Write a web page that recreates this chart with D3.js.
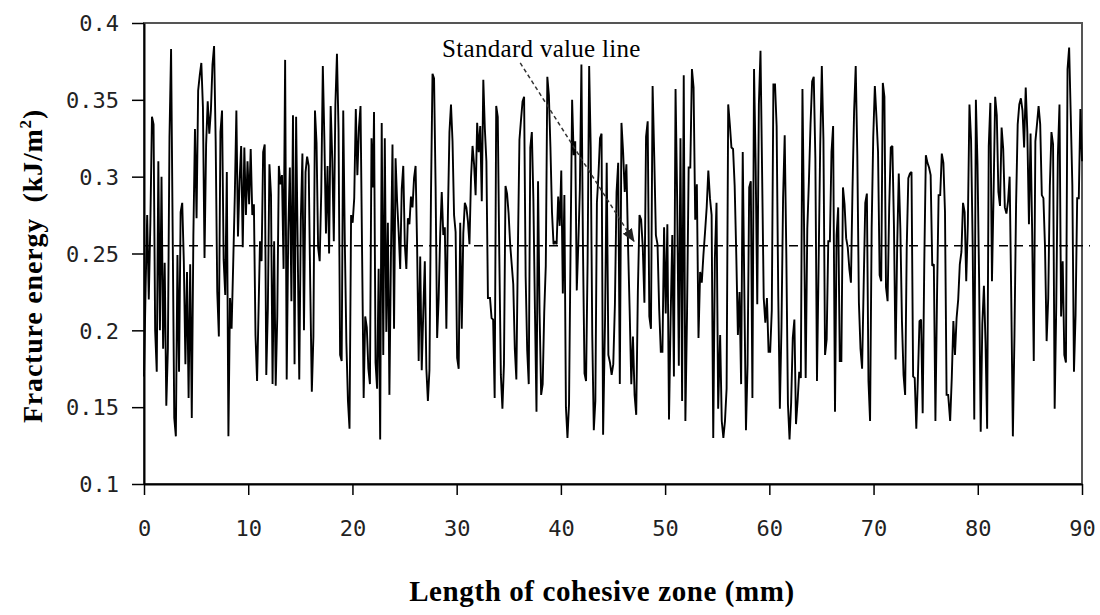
<!DOCTYPE html>
<html>
<head>
<meta charset="utf-8">
<script src="https://cdn.jsdelivr.net/npm/d3@7"></script>
<style>
    body { margin: 0; background: #fff; }
    .tick-label { font-family: "DejaVu Sans Mono", monospace; font-size: 22px; fill: #222; }
    .axis-title { font-family: "Liberation Serif", "Times New Roman", serif; font-weight: bold; fill: #000; }
    .note { font-family: "Liberation Serif", "Times New Roman", serif; font-size: 25px; letter-spacing: 0.3px; fill: #000; }
</style>
</head>
<body>
<svg id="chart" width="1100" height="615"></svg>
<script>
let pad_l = 144
let pad_r = 18
let pad_t = 23
let pad_b = 131

// fracture energy readings, one array per stretch of the zone (kJ/m2)
let energy_a = [0.17, 0.227, 0.275, 0.22, 0.27, 0.339, 0.334, 0.2, 0.173, 0.31, 0.2, 0.3, 0.188, 0.244, 0.151, 0.188, 0.326, 0.383, 0.264, 0.143, 0.131, 0.249, 0.173, 0.277, 0.283, 0.245, 0.178, 0.238, 0.156, 0.243, 0.143, 0.262, 0.331, 0.273, 0.356, 0.366, 0.374, 0.345, 0.247, 0.321, 0.349, 0.328, 0.343, 0.373, 0.385, 0.323, 0.225, 0.196, 0.329, 0.343, 0.246, 0.223, 0.303, 0.131, 0.221, 0.201, 0.243, 0.287, 0.343, 0.261, 0.297, 0.32, 0.254, 0.319, 0.275, 0.31, 0.282, 0.318, 0.275, 0.282, 0.197, 0.167]
let energy_b = [0.258, 0.245, 0.316, 0.321, 0.171, 0.214, 0.308, 0.288, 0.165, 0.258, 0.164, 0.209, 0.307, 0.295, 0.301, 0.24, 0.376, 0.168, 0.264, 0.306, 0.219, 0.34, 0.178, 0.339, 0.254, 0.168, 0.272, 0.315, 0.2, 0.303, 0.313, 0.307, 0.228, 0.16, 0.196, 0.343, 0.322, 0.254, 0.245, 0.29, 0.372, 0.324, 0.263, 0.307, 0.25, 0.346, 0.312, 0.258, 0.347, 0.38, 0.331, 0.184, 0.18, 0.343, 0.258, 0.192, 0.154, 0.136, 0.275, 0.27, 0.286, 0.344, 0.301, 0.332, 0.346, 0.251, 0.156, 0.209, 0.202, 0.175, 0.165, 0.325, 0.293]
let energy_c = [0.342, 0.179, 0.162, 0.24, 0.129, 0.335, 0.184, 0.325, 0.199, 0.27, 0.158, 0.249, 0.321, 0.201, 0.312, 0.284, 0.264, 0.24, 0.292, 0.307, 0.256, 0.24, 0.273, 0.269, 0.287, 0.28, 0.299, 0.307, 0.254, 0.18, 0.248, 0.174, 0.212, 0.245, 0.175, 0.154, 0.174, 0.288, 0.367, 0.364, 0.294, 0.195, 0.221, 0.263, 0.29, 0.262, 0.267, 0.201, 0.275, 0.329, 0.347, 0.323, 0.275, 0.264, 0.182, 0.175, 0.27, 0.201, 0.263, 0.283, 0.28, 0.271, 0.256, 0.299, 0.32, 0.308, 0.288, 0.335, 0.316, 0.333, 0.284, 0.363, 0.331, 0.31, 0.221]
let energy_d = [0.221, 0.208, 0.207, 0.156, 0.346, 0.339, 0.248, 0.171, 0.149, 0.178, 0.294, 0.289, 0.276, 0.256, 0.243, 0.23, 0.188, 0.168, 0.253, 0.324, 0.337, 0.349, 0.352, 0.235, 0.187, 0.165, 0.319, 0.329, 0.285, 0.213, 0.147, 0.297, 0.211, 0.158, 0.165, 0.212, 0.242, 0.365, 0.353, 0.319, 0.277, 0.256, 0.258, 0.256, 0.287, 0.268, 0.304, 0.224, 0.288, 0.15, 0.13, 0.152, 0.254, 0.35, 0.314, 0.323, 0.226, 0.256, 0.292, 0.373, 0.254, 0.172, 0.167, 0.245, 0.372, 0.319, 0.197, 0.135, 0.154, 0.283, 0.301, 0.325, 0.328, 0.132]
let energy_e = [0.208, 0.309, 0.184, 0.179, 0.171, 0.178, 0.217, 0.29, 0.309, 0.165, 0.335, 0.316, 0.29, 0.308, 0.256, 0.213, 0.165, 0.196, 0.158, 0.145, 0.225, 0.275, 0.272, 0.254, 0.218, 0.326, 0.336, 0.209, 0.201, 0.359, 0.313, 0.262, 0.256, 0.214, 0.186, 0.186, 0.267, 0.211, 0.269, 0.142, 0.208, 0.262, 0.17, 0.357, 0.284, 0.177, 0.325, 0.154, 0.366, 0.141, 0.21, 0.306, 0.306, 0.37, 0.358, 0.272, 0.295, 0.195, 0.238, 0.231, 0.249, 0.264, 0.28, 0.304, 0.286, 0.275, 0.13, 0.247, 0.283, 0.149]
let energy_f = [0.197, 0.141, 0.13, 0.141, 0.162, 0.347, 0.334, 0.319, 0.318, 0.294, 0.249, 0.197, 0.225, 0.165, 0.316, 0.225, 0.135, 0.178, 0.293, 0.297, 0.156, 0.37, 0.308, 0.217, 0.347, 0.382, 0.303, 0.221, 0.205, 0.221, 0.186, 0.186, 0.213, 0.36, 0.36, 0.333, 0.223, 0.149, 0.202, 0.286, 0.327, 0.25, 0.152, 0.129, 0.153, 0.195, 0.207, 0.139, 0.154, 0.173, 0.169, 0.357, 0.267, 0.169, 0.266, 0.297, 0.334, 0.362, 0.365, 0.312, 0.167, 0.242, 0.32, 0.372, 0.324, 0.184, 0.194, 0.258, 0.258, 0.316, 0.333]
let energy_g = [0.147, 0.262, 0.28, 0.18, 0.18, 0.293, 0.282, 0.26, 0.254, 0.24, 0.231, 0.293, 0.343, 0.372, 0.314, 0.218, 0.188, 0.175, 0.23, 0.283, 0.289, 0.167, 0.141, 0.267, 0.326, 0.359, 0.339, 0.316, 0.236, 0.232, 0.361, 0.352, 0.228, 0.219, 0.28, 0.319, 0.32, 0.267, 0.181, 0.254, 0.302, 0.266, 0.206, 0.171, 0.158, 0.254, 0.299, 0.302, 0.303, 0.17, 0.169, 0.136, 0.169, 0.206, 0.207, 0.146, 0.243, 0.314, 0.309, 0.306, 0.301, 0.242, 0.243, 0.141, 0.222, 0.288, 0.288, 0.315, 0.309, 0.277, 0.158, 0.158]
let energy_h = [0.141, 0.169, 0.206, 0.184, 0.208, 0.22, 0.243, 0.251, 0.283, 0.277, 0.232, 0.269, 0.347, 0.324, 0.256, 0.142, 0.35, 0.308, 0.234, 0.134, 0.204, 0.229, 0.192, 0.136, 0.32, 0.348, 0.232, 0.289, 0.352, 0.34, 0.29, 0.281, 0.332, 0.318, 0.28, 0.276, 0.284, 0.3, 0.221, 0.131, 0.197, 0.282, 0.334, 0.347, 0.351, 0.343, 0.319, 0.358, 0.329, 0.269, 0.328, 0.264, 0.18, 0.323, 0.334, 0.346, 0.334, 0.288, 0.286, 0.254, 0.193, 0.221, 0.294, 0.329, 0.321, 0.149, 0.217, 0.314, 0.347, 0.209, 0.245, 0.184, 0.179, 0.37, 0.384, 0.34, 0.294, 0.173, 0.21, 0.286, 0.286, 0.344, 0.31]

// start and end of each stretch (mm)
let stretch_mm = [[0, 10.85], [11.13, 21.98], [22.07, 33.0], [33.2, 44.05], [44.24, 55.09], [55.28, 66.12], [66.3, 77.16], [77.35, 90]]

let x_ticks = [0, 10, 20, 30, 40, 50, 60, 70, 80, 90]
let y_ticks = [0.1, 0.15, 0.2, 0.25, 0.3, 0.35, 0.4]
let y_tick_labels = ['0.1', '0.15', '0.2', '0.25', '0.3', '0.35', '0.4']
let standard_value = 0.255

let stretches = [energy_a, energy_b, energy_c, energy_d, energy_e, energy_f, energy_g, energy_h]
let points = []
stretches.forEach((vals, k) => {
    let [a, b] = stretch_mm[k]
    vals.forEach((v, i) => points.push({mm: a + i * (b - a) / (vals.length - 1), e: v}))
})

let svg = d3.select('#chart')
let w = +svg.attr('width')
let h = +svg.attr('height')

let x = d3.scaleLinear().domain([0, 90]).range([pad_l, w - pad_r])
let y = d3.scaleLinear().domain([0.1, 0.4]).range([h - pad_b, pad_t])

// plot area frame
svg.append('rect')
    .attr('x', x(0)).attr('y', y(0.4))
    .attr('width', x(90) - x(0)).attr('height', y(0.1) - y(0.4))
    .attr('fill', 'none').attr('stroke', '#555').attr('stroke-width', 2)

// standard value line, runs a little past the frame
svg.append('line')
    .attr('x1', x(0)).attr('x2', x(90) + 8)
    .attr('y1', y(standard_value)).attr('y2', y(standard_value))
    .attr('stroke', '#000').attr('stroke-width', 1.5)
    .attr('stroke-dasharray', '9,6')

svg.append('path')
    .datum(points)
    .attr('fill', 'none')
    .attr('stroke', '#000')
    .attr('stroke-width', 1.9)
    .attr('stroke-linejoin', 'miter')
    .attr('stroke-miterlimit', 2)
    .attr('d', d3.line().x(d => x(d.mm)).y(d => y(d.e)))

let xAxis = svg.append('g')
    .attr('transform', `translate(0, ${y(0.1)})`)
    .call(d3.axisBottom(x).tickValues(x_ticks).tickSize(11).tickSizeOuter(0).tickFormat(d3.format('d')))
xAxis.select('.domain').attr('stroke', '#000').attr('stroke-width', 2)
xAxis.selectAll('.tick line').attr('stroke', '#000').attr('stroke-width', 1.5)
xAxis.selectAll('.tick text').attr('class', 'tick-label').attr('y', 36).attr('dy', '0.71em')

let yAxis = svg.append('g')
    .attr('transform', `translate(${x(0)}, 0)`)
    .call(d3.axisLeft(y).tickValues(y_ticks).tickSize(12).tickSizeOuter(0).tickFormat((d, i) => y_tick_labels[i]))
yAxis.select('.domain').attr('stroke', '#000').attr('stroke-width', 2)
yAxis.selectAll('.tick line').attr('stroke', '#000').attr('stroke-width', 1.5)
yAxis.selectAll('.tick text').attr('class', 'tick-label').attr('x', -25).attr('dy', '0.35em')

// axis titles
svg.append('text')
    .classed('axis-title', true)
    .attr('text-anchor', 'middle')
    .attr('font-size', '29px')
    .attr('letter-spacing', '0.6px')
    .attr('x', 602)
    .attr('y', h - 14)
    .text('Length of cohesive zone (mm)')

let yt = svg.append('text')
    .classed('axis-title', true)
    .attr('text-anchor', 'middle')
    .attr('font-size', '28px')
    .attr('letter-spacing', '0.8px')
    .attr('xml:space', 'preserve')
    .attr('transform', `translate(42, 266) rotate(-90)`)
yt.append('tspan').text('Fracture energy\u00a0 (kJ/m')
yt.append('tspan').text('2').attr('font-size', '17px').attr('dy', '-11')
yt.append('tspan').text(')').attr('dy', '11')

// annotation with dashed arrow
let defs = svg.append('defs')
defs.append('marker')
    .attr('id', 'arrow')
    .attr('viewBox', '0 0 10 10')
    .attr('refX', 9).attr('refY', 5)
    .attr('markerWidth', 9).attr('markerHeight', 9)
    .attr('orient', 'auto')
    .append('path')
    .attr('d', 'M0,1 L10,5 L0,9 z')
    .attr('fill', '#222')

svg.append('text')
    .classed('note', true)
    .attr('x', x(28.6))
    .attr('y', y(0.378))
    .text('Standard value line')

svg.append('line')
    .attr('x1', x(36.1)).attr('y1', y(0.374))
    .attr('x2', x(47.0)).attr('y2', y(0.258))
    .attr('stroke', '#333').attr('stroke-width', 1.5)
    .attr('stroke-dasharray', '4,3')
    .attr('marker-end', 'url(#arrow)')
</script>
</body>
</html>
